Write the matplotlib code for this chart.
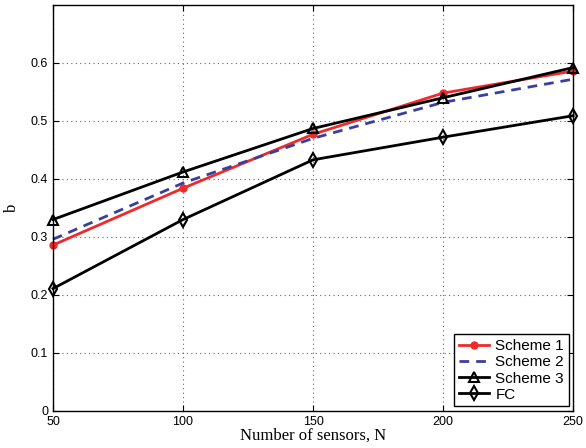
import matplotlib
matplotlib.use("Agg")
import matplotlib.pyplot as plt

N = [50, 100, 150, 200, 250]
scheme1 = [0.286, 0.384, 0.477, 0.548, 0.586]
scheme2 = [0.296, 0.393, 0.470, 0.532, 0.572]
scheme3 = [0.330, 0.412, 0.487, 0.540, 0.592]
fc = [0.211, 0.330, 0.433, 0.472, 0.509]

plt.rcParams['font.family'] = ['Liberation Sans', 'DejaVu Sans']

fig = plt.figure(figsize=(5.86, 4.48), dpi=100)
ax = fig.add_axes([0.0904, 0.0826, 0.8876, 0.9064])

ax.plot(N, scheme1, color='#ee2a2a', lw=2, marker='o', ms=5, label='Scheme 1', clip_on=False)
ax.plot(N, scheme2, color='#3a3f9e', lw=2, ls=(0, (3.5, 2.5)), label='Scheme 2', clip_on=False)
ax.plot(N, scheme3, color='black', lw=2, marker='^', ms=7, mfc='none', mew=1.5,
        label='Scheme 3', clip_on=False)
ax.plot(N, fc, color='black', lw=2, marker='d', ms=7, mfc='none', mew=1.5,
        label='FC', clip_on=False)

ax.set_xlim(50, 250)
ax.set_ylim(0, 0.7)
ax.set_xticks(N)
ax.set_yticks([0, 0.1, 0.2, 0.3, 0.4, 0.5, 0.6])
ax.set_yticklabels(['0', '0.1', '0.2', '0.3', '0.4', '0.5', '0.6'])
ax.tick_params(direction='in', labelsize=9, length=4, top=True, right=True)
ax.grid(True, ls=(0, (1, 3)), color='#666666', lw=0.8)
for s in ax.spines.values():
    s.set_linewidth(1.0)

ax.set_xlabel('Number of sensors, N', family='Liberation Serif', fontsize=12, labelpad=0)
ax.set_ylabel('b', family='Liberation Serif', fontsize=12, labelpad=8)

leg = ax.legend(loc='lower right', fontsize=11, fancybox=False, edgecolor='black',
                framealpha=1, borderpad=0.3, labelspacing=0.15, handlelength=2.0,
                handletextpad=0.4, borderaxespad=0.3)
leg.get_frame().set_linewidth(1.0)

fig.savefig('out.png', dpi=100)
